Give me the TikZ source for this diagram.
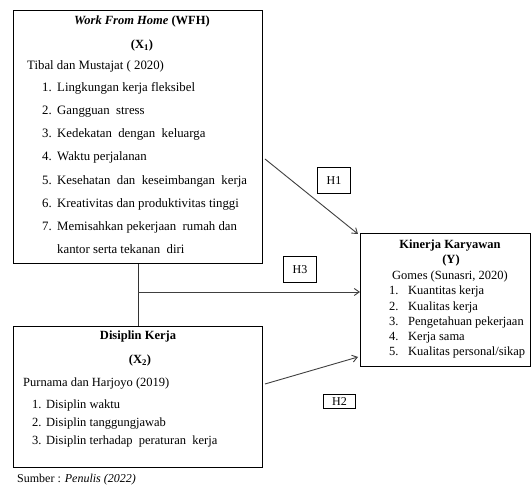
\documentclass[tikz,border=0pt]{standalone}
\usepackage{fontspec}
\setmainfont{Liberation Serif}
\usetikzlibrary{arrows.meta}
\begin{document}
\begin{tikzpicture}[x=1pt,y=-1pt,
  box/.style={draw=black,line width=1.1pt,inner sep=0pt,anchor=north west},
  hbox/.style={draw=black,line width=0.9pt,inner sep=0pt,anchor=north west},
  txt/.style={inner sep=0pt,anchor=mid west,font=\fontsize{12.5}{14}\selectfont},
  wtxt/.style={inner sep=0pt,anchor=mid west,font=\fontsize{12.8}{14}\selectfont},
  ctxt/.style={inner sep=0pt,anchor=mid,font=\fontsize{12.5}{14}\selectfont\bfseries},
  arr/.style={draw=black!75,line width=0.9pt,-{Straight Barb[length=5pt,width=7pt]}},
  conn/.style={draw=black!80,line width=1.1pt}]
\useasboundingbox[fill=white] (0,0) rectangle (531,486);
% boxes
\node[box,minimum width=249pt,minimum height=253pt] (wfh) at (13,10) {};
\node[box,minimum width=249pt,minimum height=141pt] (dk) at (13,326) {};
\node[box,minimum width=170pt,minimum height=133pt] (yb) at (360,233) {};
% hypothesis boxes
\node[hbox,minimum width=33pt,minimum height=26pt] (h1) at (317,167) {};
\node[hbox,minimum width=33pt,minimum height=26pt] (h3) at (283,256) {};
\node[hbox,minimum width=32pt,minimum height=14pt] (h2) at (323,394) {};
\node[inner sep=0pt,font=\fontsize{12}{14}\selectfont] (h1t) at (h1.center) {H1};
\node[inner sep=0pt,font=\fontsize{12}{14}\selectfont] (h3t) at (h3.center) {H3};
\node[inner sep=0pt,font=\fontsize{12}{14}\selectfont] (h2t) at (h2.center) {H2};
% WFH text
\node[ctxt] (t1) at (142,22) {\itshape Work From Home\upshape{} (WFH)};
\node[ctxt] (t2) at (142,46) {(X\textsubscript{1})};
\node[wtxt] (t3) at (27,67) {Tibal dan Mustajat ( 2020)};
\node[wtxt] (n1) at (42,89) {1.};  \node[wtxt] (i1) at (57,89) {Lingkungan kerja fleksibel};
\node[wtxt] (n2) at (42,112) {2.}; \node[wtxt] (i2) at (57,112) {Gangguan\ \ stress};
\node[wtxt] (n3) at (42,135) {3.}; \node[wtxt] (i3) at (57,135) {Kedekatan\ \ dengan\ \ keluarga};
\node[wtxt] (n4) at (42,158) {4.}; \node[wtxt] (i4) at (57,158) {Waktu perjalanan};
\node[wtxt] (n5) at (42,182) {5.}; \node[wtxt] (i5) at (57,182) {Kesehatan\ \ dan\ \ keseimbangan\ \ kerja};
\node[wtxt] (n6) at (42,205) {6.}; \node[wtxt] (i6) at (57,205) {Kreativitas dan produktivitas tinggi};
\node[wtxt] (n7) at (42,228) {7.}; \node[wtxt] (i7) at (57,228) {Memisahkan pekerjaan\ \ rumah dan};
\node[wtxt] (i8) at (57,251) {kantor serta tekanan\ \ diri};
% Disiplin text
\node[ctxt] (d1) at (138,337) {Disiplin Kerja};
\node[ctxt] (d2) at (140,361) {(X\textsubscript{2})};
\node[txt] (d3) at (23,384) {Purnama dan Harjoyo (2019)};
\node[txt] (m1) at (32,406) {1.}; \node[txt] (j1) at (46,406) {Disiplin waktu};
\node[txt] (m2) at (32,424) {2.}; \node[txt] (j2) at (46,424) {Disiplin tanggungjawab};
\node[txt] (m3) at (32,442) {3.}; \node[txt] (j3) at (46,442) {Disiplin terhadap\ \ peraturan\ \ kerja};
\node[txt,font=\fontsize{12}{13}\selectfont] (src) at (17,480) {Sumber : \textit{Penulis (2022)}};
% Y text
\node[ctxt] (y1) at (450,246) {Kinerja Karyawan};
\node[ctxt] (y2) at (451,261) {(Y)};
\node[txt] (y3) at (392,277) {Gomes (Sunasri, 2020)};
\node[txt] (k1) at (389,292) {1.}; \node[txt] (l1) at (408,292) {Kuantitas kerja};
\node[txt] (k2) at (389,308) {2.}; \node[txt] (l2) at (408,308) {Kualitas kerja};
\node[txt] (k3) at (389,323) {3.}; \node[txt] (l3) at (408,323) {Pengetahuan pekerjaan};
\node[txt] (k4) at (389,338) {4.}; \node[txt] (l4) at (408,338) {Kerja sama};
\node[txt] (k5) at (389,353) {5.}; \node[txt] (l5) at (408,353) {Kualitas personal/sikap};
% connectors
\coordinate (a1) at (265,159);
\coordinate (a3) at (138,292);
\coordinate (a2) at (265,384);
\coordinate (e2) at (358,357);
\draw[conn] (wfh.south) -- (dk.north);
\draw[arr] (a1) -- ([xshift=-2pt,yshift=-1pt]yb.north west);
\draw[arr] (a3) -- (a3 -| yb.west);
\draw[arr] (a2) -- (e2);
\end{tikzpicture}
\end{document}
